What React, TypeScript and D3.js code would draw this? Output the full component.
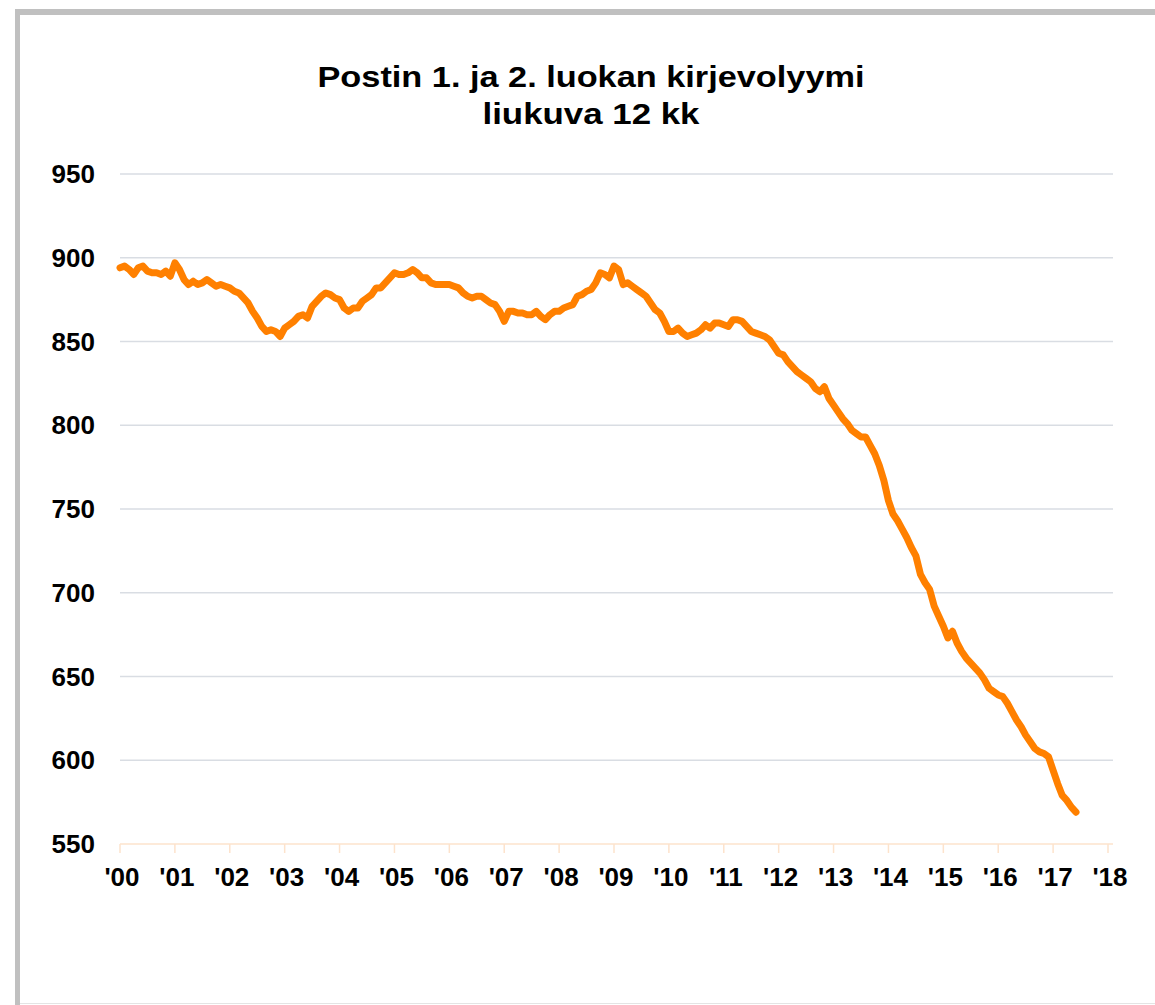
import React, { useEffect, useRef } from "react"
import * as d3 from "d3"

// monthly values, Jan 2000 ->
const startYear = 2000
const volume = [
  894, 895, 893, 890, 894, 895, 892, 891, 891, 890, 892, 889,
  897, 893, 887, 884, 886, 884, 885, 887, 885, 883, 884, 883,
  882, 880, 879, 876, 873, 868, 864, 859, 856, 857, 856, 853,
  858, 860, 862, 865, 866, 864, 871, 874, 877, 879, 878, 876,
  875, 870, 868, 870, 870, 874, 876, 878, 882, 882, 885, 888,
  891, 890, 890, 891, 893, 891, 888, 888, 885, 884, 884, 884,
  884, 883, 882, 879, 877, 876, 877, 877, 875, 873, 872, 868,
  862, 868, 868, 867, 867, 866, 866, 868, 865, 863, 866, 868,
  868, 870, 871, 872, 877, 878, 880, 881, 885, 891, 890, 888,
  895, 893, 884, 885, 883, 881, 879, 877, 873, 869, 867, 862,
  856, 856, 858, 855, 853, 854, 855, 857, 860, 858, 861, 861,
  860, 859, 863, 863, 862, 859, 856, 855, 854, 853, 851, 847,
  843, 842, 838, 835, 832, 830, 828, 826, 822, 820, 823, 816,
  812, 808, 804, 801, 797, 795, 793, 793, 788, 783, 776, 767,
  755, 747, 743, 738, 733, 727, 722, 711, 706, 702, 692, 686,
  680, 673, 677, 670, 665, 661, 658, 655, 652, 648, 643, 641,
  639, 638, 634, 629, 624, 620, 615, 611, 607, 605, 604, 602,
  594, 586, 579, 576, 572, 569,
]
const yTicks = [550, 600, 650, 700, 750, 800, 850, 900, 950]
const xYears = d3.range(2000, 2019)
const titleLines = ["Postin 1. ja 2. luokan kirjevolyymi", "liukuva 12 kk"]

const App = () => {
  const ref = useRef<SVGSVGElement>(null)

  useEffect(() => {
    const svg = d3.select(ref.current)
    svg.selectAll("*").remove()

    const font = "Arial, 'Liberation Sans', sans-serif"

    // frame
    svg.append("rect").attr("width", 1155).attr("height", 1005).attr("fill", "#fff")
    svg.append("line")
      .attr("x1", 17.5).attr("x2", 17.5).attr("y1", 9).attr("y2", 1005)
      .attr("stroke", "#c0c0c0").attr("stroke-width", 5)
    svg.append("line")
      .attr("x1", 15).attr("x2", 1155).attr("y1", 12).attr("y2", 12)
      .attr("stroke", "#c0c0c0").attr("stroke-width", 6)
    svg.append("line")
      .attr("x1", 20).attr("x2", 1155).attr("y1", 1003.5).attr("y2", 1003.5)
      .attr("stroke", "#e4e4e4").attr("stroke-width", 1)

    const x = d3.scaleLinear().domain([2000, 2018]).range([120, 1108])
    const y = d3.scaleLinear().domain([550, 950]).range([844, 174])

    // grid
    svg.append("g")
      .selectAll("line")
      .data(yTicks.filter((d) => d !== 550))
      .enter()
      .append("line")
      .attr("x1", 120).attr("x2", 1113)
      .attr("y1", (d) => y(d)).attr("y2", (d) => y(d))
      .attr("stroke", "#d9dde3").attr("stroke-width", 1.5)

    svg.append("g")
      .selectAll("text")
      .data(yTicks)
      .enter()
      .append("text")
      .attr("x", 95)
      .attr("y", (d) => y(d) + 9)
      .attr("text-anchor", "end")
      .attr("font-family", font).attr("font-weight", "bold").attr("font-size", 26)
      .attr("fill", "#000")
      .text((d) => d)

    // x axis
    const ax = svg.append("g")
    ax.append("line")
      .attr("x1", 120).attr("x2", 1113).attr("y1", 844).attr("y2", 844)
      .attr("stroke", "#fde3cc").attr("stroke-width", 1.5)
    ax.selectAll("line.tick")
      .data(xYears)
      .enter()
      .append("line")
      .attr("class", "tick")
      .attr("x1", (d) => x(d)).attr("x2", (d) => x(d))
      .attr("y1", 844).attr("y2", 853)
      .attr("stroke", "#fde3cc").attr("stroke-width", 1.5)
    ax.selectAll("text")
      .data(xYears)
      .enter()
      .append("text")
      .attr("x", (d) => x(d) + 2)
      .attr("y", 886)
      .attr("text-anchor", "middle")
      .attr("font-family", font).attr("font-weight", "bold").attr("font-size", 26)
      .attr("fill", "#000")
      .text((d) => "'" + String(d).slice(2))

    // line
    const line = d3.line<number>()
      .x((d, i) => x(startYear + i / 12))
      .y((d) => y(d))
    svg.append("path")
      .datum(volume)
      .attr("d", line)
      .attr("fill", "none")
      .attr("stroke", "#ff8000")
      .attr("stroke-width", 7)
      .attr("stroke-linejoin", "round")
      .attr("stroke-linecap", "round")

    // title, stretched a bit wider like the source
    const titleWidths = [547, 217]
    svg.append("g")
      .selectAll("text")
      .data(titleLines)
      .enter()
      .append("text")
      .attr("x", (d, i) => 591 - titleWidths[i] / 2)
      .attr("y", (d, i) => 87 + i * 37)
      .attr("textLength", (d, i) => titleWidths[i])
      .attr("lengthAdjust", "spacingAndGlyphs")
      .attr("font-family", font).attr("font-weight", "bold").attr("font-size", 30)
      .attr("fill", "#000")
      .text((d) => d)
  }, [])

  return (
    <svg
      ref={ref}
      width={1155}
      height={1005}
      style={{ position: "absolute", left: 0, top: 0, display: "block" }}
    />
  )
}

export default App
